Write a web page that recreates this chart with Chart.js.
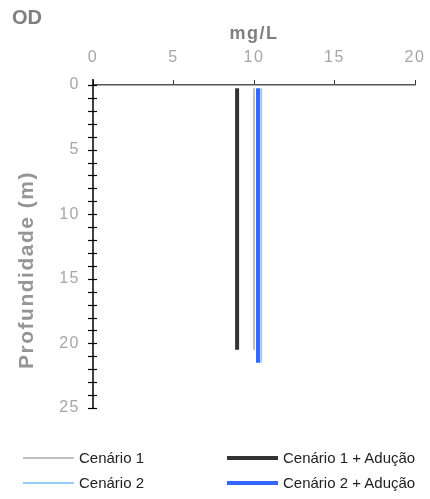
<!DOCTYPE html>
<html>
<head>
<meta charset="utf-8">
<script src="https://cdn.jsdelivr.net/npm/chart.js@4"></script>
<style>
  html, body { margin: 0; padding: 0; background: #fff; }
  #wrap { position: relative; width: 430px; height: 499px; font-family: "Liberation Sans", Arial, sans-serif; }
  #chart { position: absolute; left: 0; top: 0; }
  #od { position: absolute; left: 12px; top: 6px; font-weight: bold; font-size: 20px; color: #7f7f7f; }
  #ytitle { position: absolute; left: 26px; top: 270px; transform: translate(-50%, -50%) rotate(-90deg);
            white-space: nowrap; font-weight: bold; font-size: 21px; letter-spacing: 1.5px; color: #959595; }
  .leg { position: absolute; display: flex; align-items: center; font-size: 15px; color: #222; }
  .leg .sw { width: 51px; margin-right: 5px; }
</style>
</head>
<body>
<div id="wrap">
  <canvas id="chart" width="430" height="499"></canvas>
  <div id="od">OD</div>
  <div id="ytitle">Profundidade (m)</div>
  <div id="legend"></div>
</div>
<script>
// depth (m) of each reading
const depth1 = [0.25, 1, 2, 3, 4, 5, 6, 7, 8, 9, 10, 11, 12, 13, 14, 15, 16, 17, 18, 19, 20, 20.5];
const depth2 = [0.25, 1, 2, 3, 4, 5, 6, 7, 8, 9, 10, 11, 12, 13, 14, 15, 16, 17, 18, 19, 20, 21, 21.5];

// OD (mg/L)
const cenario1 = [10.0, 10.0, 10.0, 10.0, 10.0, 10.0, 10.0, 10.0, 10.0, 10.0, 10.0, 10.0, 10.0, 10.0, 10.0, 10.0, 10.0, 10.0, 10.0, 10.0, 10.0, 10.0];
const cenario2 = [10.45, 10.45, 10.45, 10.45, 10.45, 10.45, 10.45, 10.45, 10.45, 10.45, 10.45, 10.45, 10.45, 10.45, 10.45, 10.45, 10.45, 10.45, 10.45, 10.45, 10.45, 10.45, 10.45];
const cenario1Aducao = [8.95, 8.95, 8.95, 8.95, 8.95, 8.95, 8.95, 8.95, 8.95, 8.95, 8.95, 8.95, 8.95, 8.95, 8.95, 8.95, 8.95, 8.95, 8.95, 8.95, 8.95, 8.95];
const cenario2Aducao = [10.25, 10.25, 10.25, 10.25, 10.25, 10.25, 10.25, 10.25, 10.25, 10.25, 10.25, 10.25, 10.25, 10.25, 10.25, 10.25, 10.25, 10.25, 10.25, 10.25, 10.25, 10.25, 10.25];

const xTicks = [0, 5, 10, 15, 20];
const yTicks = [0, 5, 10, 15, 20, 25];

const series = [
  { label: "Cenário 1", x: cenario1, y: depth1, color: "#c0c0c0", width: 2 },
  { label: "Cenário 2", x: cenario2, y: depth2, color: "#99ccff", width: 2 },
  { label: "Cenário 1 + Adução", x: cenario1Aducao, y: depth1, color: "#333333", width: 4 },
  { label: "Cenário 2 + Adução", x: cenario2Aducao, y: depth2, color: "#3366ff", width: 4 },
];

const FONT = "'Liberation Sans', Arial, sans-serif";

// the original is rendered with a loose letter spacing
const spacing = {
  id: "spacing",
  beforeDraw(chart) { chart.ctx.letterSpacing = "1.5px"; },
};

// minor ticks crossing the depth axis
const crossTicks = {
  id: "crossTicks",
  afterDraw(chart) {
    const { ctx } = chart;
    const y = chart.scales.y;
    const x0 = chart.scales.x.getPixelForValue(0);
    ctx.save();
    ctx.strokeStyle = "#000";
    ctx.lineWidth = 1.5;
    ctx.beginPath();
    ctx.moveTo(x0, y.getPixelForValue(0) - 6);
    ctx.lineTo(x0, y.getPixelForValue(25));
    ctx.stroke();
    ctx.lineWidth = 1.2;
    y.ticks.forEach((t) => {
      const py = Math.round(y.getPixelForValue(t.value)) + 0.5;
      ctx.beginPath();
      ctx.moveTo(x0 - 5, py);
      ctx.lineTo(x0 + 4, py);
      ctx.stroke();
    });
    ctx.restore();
  },
};

new Chart(document.getElementById("chart"), {
  type: "scatter",
  data: {
    datasets: series.map((s) => ({
      label: s.label,
      data: s.x.map((v, i) => ({ x: v, y: s.y[i] })),
      showLine: true,
      borderColor: s.color,
      backgroundColor: s.color,
      borderWidth: s.width,
      pointRadius: 0,
      borderCapStyle: "butt",
    })),
  },
  options: {
    responsive: false,
    animation: false,
    layout: { padding: { left: 10, right: 15, top: 0, bottom: 91 } },
    scales: {
      x: {
        position: "top",
        min: 0,
        max: 20,
        afterBuildTicks: (sc) => { sc.ticks = xTicks.map((v) => ({ value: v })); },
        afterFit: (sc) => { sc.height = 85; sc.paddingLeft = 0; sc.paddingRight = 0; },
        ticks: { color: "#a6a6a6", font: { family: FONT, size: 16 }, padding: 13, maxRotation: 0 },
        grid: { drawOnChartArea: false, drawTicks: true, tickLength: 5, color: "#333", lineWidth: 1 },
        border: { display: true, color: "#555", width: 1.5 },
        title: { display: true, text: "mg/L", color: "#7f7f7f", font: { family: FONT, size: 18, weight: "bold" }, padding: { top: 23, bottom: 0 } },
      },
      y: {
        reverse: true,
        min: 0,
        max: 25,
        afterBuildTicks: (sc) => {
          const t = [];
          for (let v = 0; v <= 25; v++) t.push({ value: v });
          sc.ticks = t;
        },
        afterFit: (sc) => { sc.width = 83; sc.paddingTop = 0; sc.paddingBottom = 0; },
        ticks: {
          color: "#a6a6a6",
          font: { family: FONT, size: 16 },
          padding: 13,
          autoSkip: false,
          callback: (v) => (yTicks.includes(v) ? v : ""),
        },
        grid: { drawOnChartArea: false, drawTicks: false },
        border: { display: false },
        title: { display: false },
      },
    },
    plugins: { legend: { display: false }, tooltip: { enabled: false } },
  },
  plugins: [spacing, crossTicks],
});

// legend, two columns
const legendPos = [
  { left: 23, top: 449 },
  { left: 23, top: 474 },
  { left: 227, top: 449 },
  { left: 227, top: 474 },
];
document.getElementById("legend").innerHTML = series.map((s, i) => `
  <div class="leg" style="left:${legendPos[i].left}px;top:${legendPos[i].top}px;">
    <span class="sw" style="height:${s.width === 4 ? 4 : 2}px;background:${s.color};"></span>${s.label}
  </div>`).join("");
</script>
</body>
</html>
